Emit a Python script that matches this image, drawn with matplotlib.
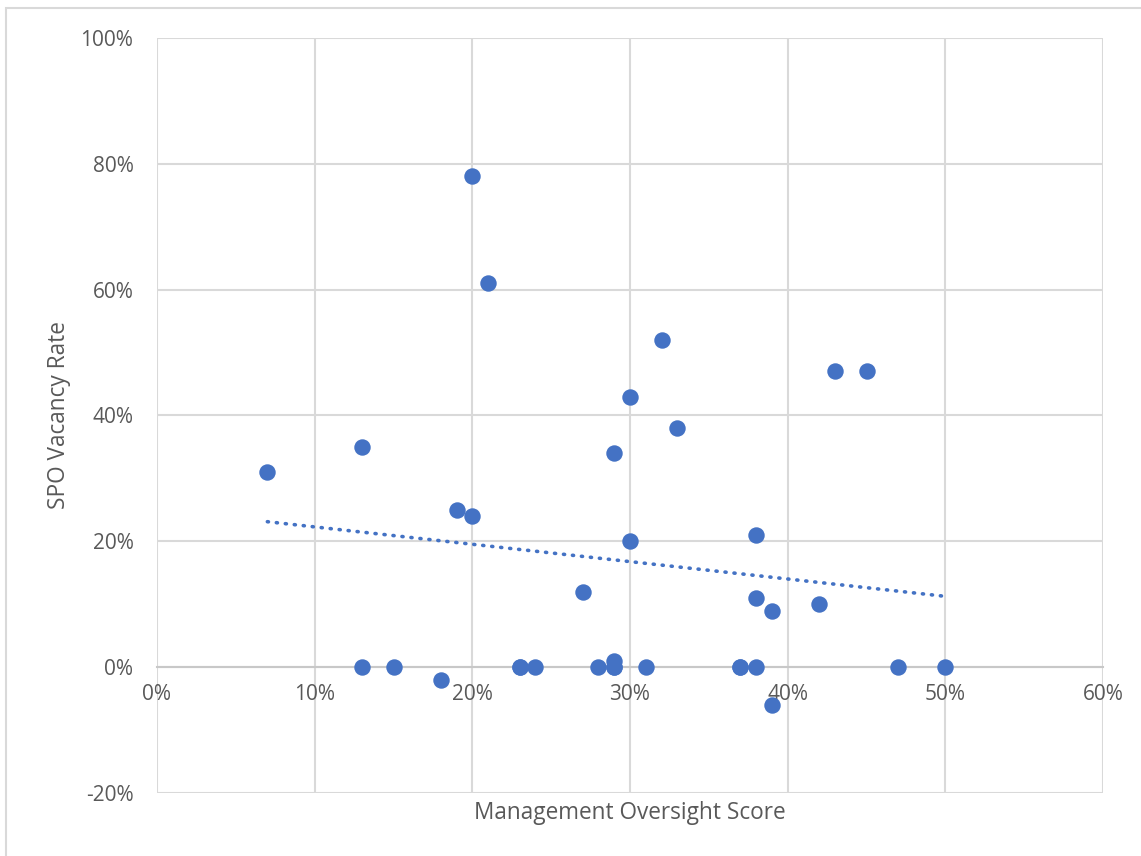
import matplotlib.pyplot as plt
import numpy as np
from matplotlib.patches import Rectangle
from matplotlib.ticker import PercentFormatter

# management oversight score (%) vs SPO vacancy rate (%)
# (a few zero-vacancy points overlap each other on the zero line)
oversight = [7, 13, 13, 15, 18, 19, 20, 20, 21, 23, 23, 24, 27, 28, 29, 29, 29,
             29, 30, 30, 31, 32, 33, 37, 37, 38, 38, 38, 39, 39, 42, 43, 45, 47, 50]
vacancy = [31, 35, 0, 0, -2, 25, 24, 78, 61, 0, 0, 0, 12, 0, 34, 1, 0,
           0, 43, 20, 0, 52, 38, 0, 0, 21, 11, 0, 9, -6, 10, 47, 47, 0, 0]

x_ticks = [0, 10, 20, 30, 40, 50, 60]
y_ticks = [-20, 0, 20, 40, 60, 80, 100]

blue = '#4472C4'
grid_col = '#D9D9D9'
text_col = '#595959'
plt.rcParams['font.family'] = ['Open Sans', 'DejaVu Sans']
plt.rcParams['axes.unicode_minus'] = False

fig = plt.figure(figsize=(11.41, 8.56), dpi=100)
fig.patches.append(Rectangle((6 / 1141, -0.01), 1.05, 1 - 8 / 856 + 0.01,
                             transform=fig.transFigure, fill=False,
                             edgecolor=grid_col, linewidth=1.5))

ax = fig.add_axes([157 / 1141, 1 - 793 / 856, (1103 - 157) / 1141, (793 - 38) / 856])
ax.set_xlim(0, 60)
ax.set_ylim(-20, 100)
ax.set_xticks(x_ticks)
ax.set_yticks(y_ticks)
ax.xaxis.set_major_formatter(PercentFormatter(decimals=0))
ax.yaxis.set_major_formatter(PercentFormatter(decimals=0))
ax.grid(True, color=grid_col, linewidth=1.5)
ax.set_axisbelow(True)
for s in ax.spines.values():
    s.set_visible(False)
ax.spines['bottom'].set_visible(True)
ax.spines['bottom'].set_position(('data', 0))
ax.spines['bottom'].set_color('#C8C8C8')
ax.spines['bottom'].set_linewidth(1.5)
ax.tick_params(length=0, labelsize=15, labelcolor=text_col)
ax.tick_params(axis='x', pad=12)
ax.tick_params(axis='y', pad=17)

ax.scatter(oversight, vacancy, s=140, color=blue, zorder=3, linewidths=0)

# linear trendline
coef = np.polyfit(oversight, vacancy, 1)
xs = np.array([min(oversight), max(oversight)])
ax.plot(xs, np.polyval(coef, xs), color=blue, linewidth=2.6,
        linestyle=(0, (0.3, 2.2)), dash_capstyle='round', zorder=2)

ax.set_xlabel('Management Oversight Score', fontsize=16.3, color=text_col)
ax.set_ylabel('SPO Vacancy Rate', fontsize=16.3, color=text_col)
# x label sits under the plot area, not under the zero-line tick labels
ax.xaxis.set_label_coords(0.5, -(813 - 793) / (793 - 38))
ax.xaxis.label.set_va('center')
ax.yaxis.set_label_coords(-(157 - 59) / (1103 - 157), 0.5)
ax.yaxis.label.set_va('center')

plt.savefig('out.png', dpi=100)
